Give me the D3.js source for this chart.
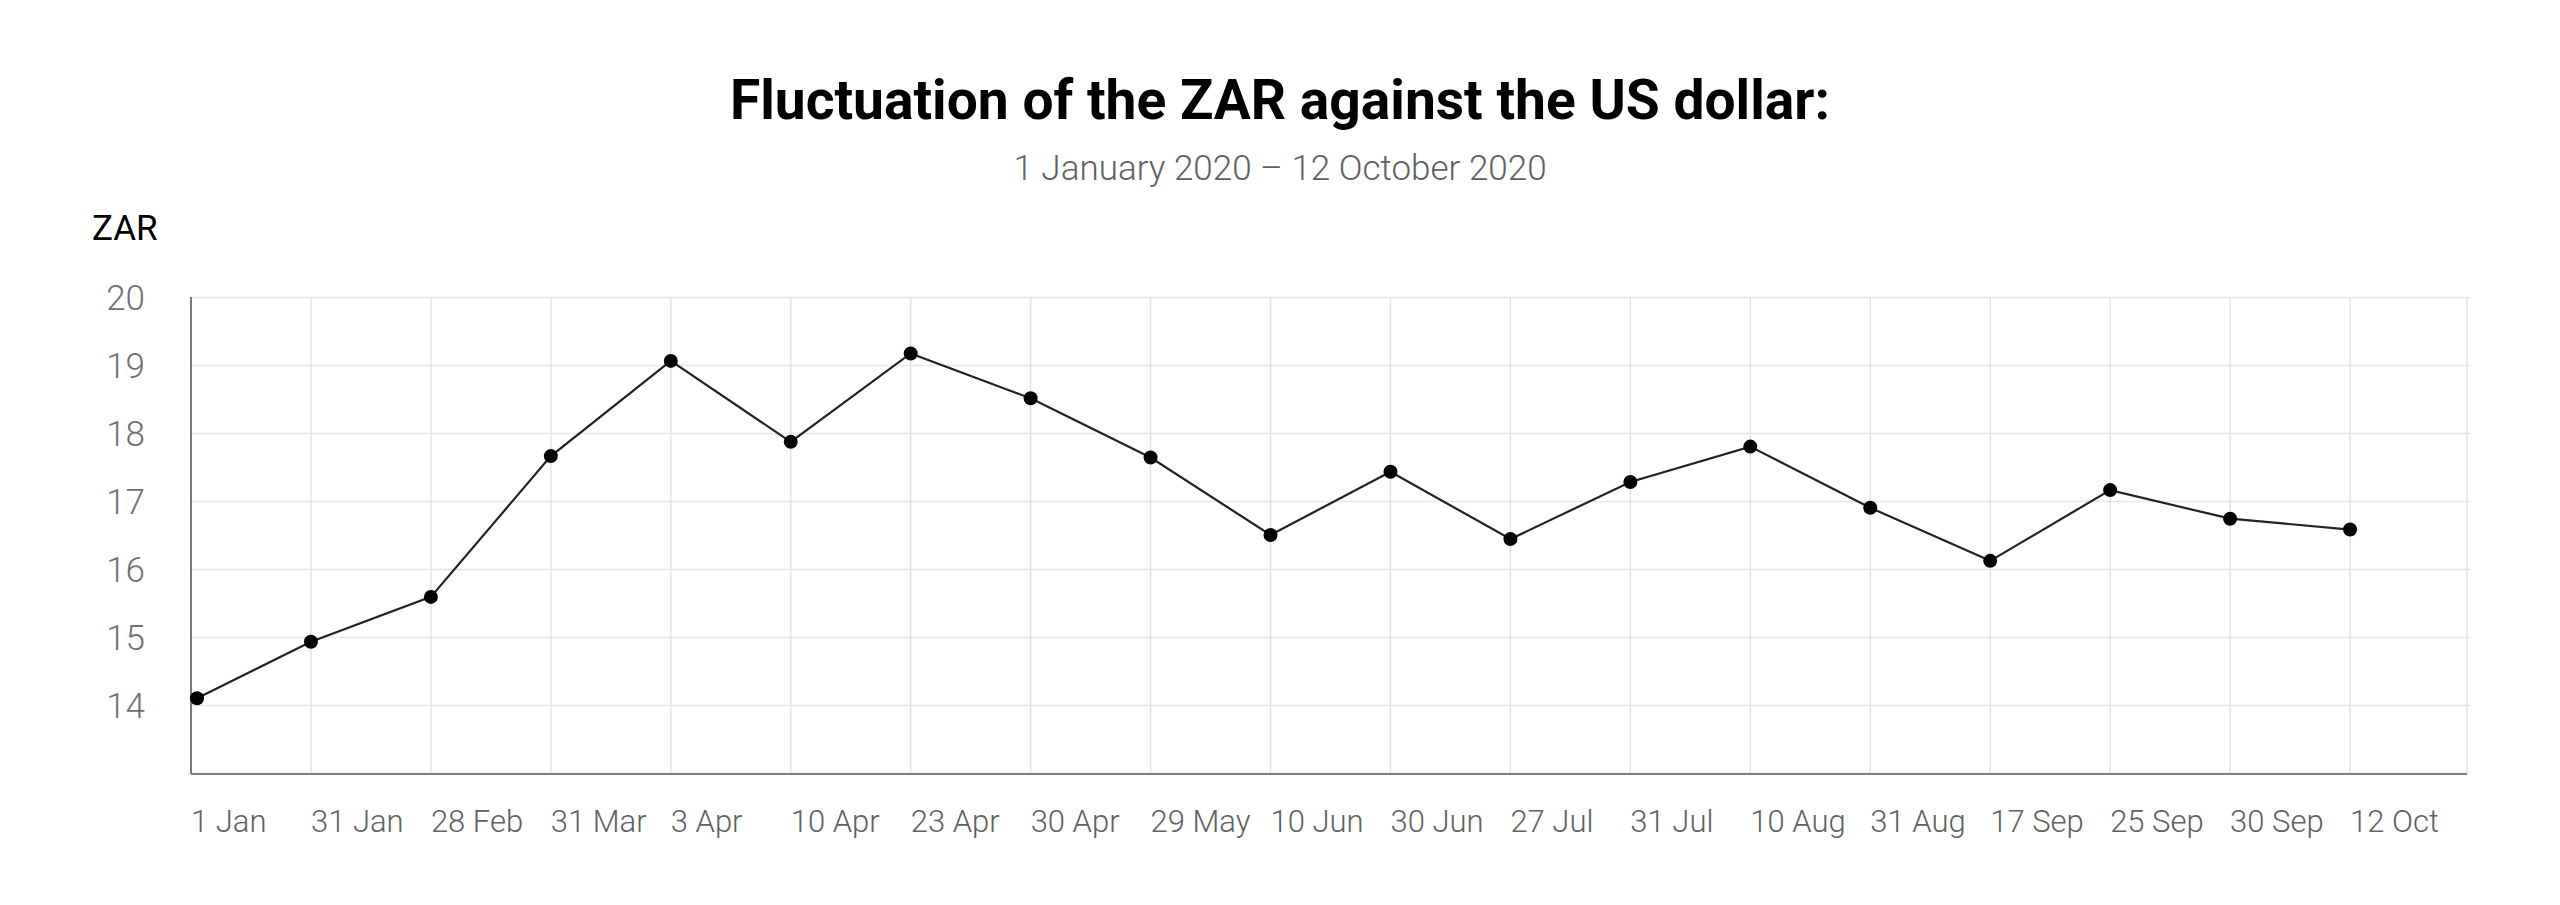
<!DOCTYPE html>
<html>
<head>
<meta charset="utf-8">
<script src="https://cdn.jsdelivr.net/npm/d3@7"></script>
<style>
  html, body { margin: 0; padding: 0; background: #ffffff; }
  svg { display: block; }
  text { font-family: Roboto, "Noto Sans", sans-serif; }
</style>
</head>
<body>
<svg id="chart" width="2560" height="905"></svg>
<script>
const titleText = "Fluctuation of the ZAR against the US dollar:";
const subtitleText = "1 January 2020 \u2013 12 October 2020";
const yAxisLabel = "ZAR";

const dates = ["1 Jan", "31 Jan", "28 Feb", "31 Mar", "3 Apr", "10 Apr", "23 Apr", "30 Apr",
  "29 May", "10 Jun", "30 Jun", "27 Jul", "31 Jul", "10 Aug", "31 Aug", "17 Sep",
  "25 Sep", "30 Sep", "12 Oct"];
const zarValues = [14.10, 14.93, 15.59, 17.66, 19.06, 17.87, 19.17, 18.51,
  17.64, 16.50, 17.43, 16.44, 17.28, 17.80, 16.90, 16.12,
  17.16, 16.74, 16.58];
const yTicks = [14, 15, 16, 17, 18, 19, 20];
const yDomain = [13, 20];

(function () {
const svg = d3.select("#chart");
const mLeft = 191, mRight = 2470, mTop = 297, mBottom = 773;

const x = d3.scaleBand().domain(dates).range([mLeft, mRight]).paddingInner(0).paddingOuter(0);
const y = d3.scaleLinear().domain(yDomain).range([mBottom, mTop]);

// Title and subtitle
svg.append("text")
  .attr("x", 1280).attr("y", 119)
  .attr("text-anchor", "middle")
  .attr("font-size", 56).attr("font-weight", 700)
  .attr("fill", "#000")
  .attr("textLength", 1100).attr("lengthAdjust", "spacingAndGlyphs")
  .text(titleText);

svg.append("text")
  .attr("x", 1280).attr("y", 180)
  .attr("text-anchor", "middle")
  .attr("font-size", 35).attr("font-weight", 300)
  .attr("fill", "#606060")
  .text(subtitleText);

svg.append("text")
  .attr("x", 92).attr("y", 240)
  .attr("font-size", 35).attr("font-weight", 400)
  .attr("fill", "#000")
  .text(yAxisLabel);

// Horizontal gridlines
svg.append("g").attr("class", "ygrid")
  .attr("transform", `translate(${mLeft},0)`)
  .call(d3.axisLeft(y).tickValues(yTicks.concat([13])).tickSize(-(mRight - mLeft)).tickFormat(""))
  .call(g => g.select(".domain").remove())
  .call(g => g.selectAll(".tick line").attr("stroke", "#e6e6e6").attr("stroke-width", 1.5));

// Vertical gridlines
svg.append("g").attr("class", "xgrid")
  .attr("transform", `translate(0,${mBottom})`)
  .call(d3.axisBottom(x).tickSize(-(mBottom - mTop)).tickFormat(""))
  .call(g => g.select(".domain").remove())
  .call(g => g.selectAll(".tick").attr("transform", d => `translate(${x(d)},0)`))
  .call(g => g.selectAll(".tick line").attr("stroke", "#e3e3e3").attr("stroke-width", 1.5));

// Right border gridline
svg.append("line")
  .attr("x1", x.range()[1] - 3).attr("x2", x.range()[1] - 3)
  .attr("y1", mTop).attr("y2", mBottom)
  .attr("stroke", "#e3e3e3").attr("stroke-width", 1.5);

// Y tick labels
svg.append("g").attr("class", "yaxis")
  .attr("transform", `translate(${mLeft},0)`)
  .call(d3.axisLeft(y).tickValues(yTicks).tickSize(0).tickPadding(46).tickFormat(d3.format("d")))
  .call(g => g.select(".domain").remove())
  .call(g => g.selectAll(".tick text")
    .attr("font-size", 35).attr("font-weight", 300).attr("fill", "#707070")
    .attr("font-family", "Roboto, sans-serif").attr("dy", "0.36em"));

// X tick labels (left-aligned at band start)
svg.append("g").attr("class", "xaxis")
  .attr("transform", `translate(0,${mBottom})`)
  .call(d3.axisBottom(x).tickSize(0).tickPadding(0))
  .call(g => g.select(".domain").remove())
  .call(g => g.selectAll(".tick").attr("transform", d => `translate(${x(d)},0)`))
  .call(g => g.selectAll(".tick text")
    .attr("text-anchor", "start").attr("x", 0).attr("y", 59).attr("dy", 0)
    .attr("font-size", 31).attr("font-weight", 300).attr("fill", "#606060")
    .attr("font-family", "Roboto, sans-serif"));

// Axis lines
svg.append("line")
  .attr("x1", mLeft).attr("x2", mLeft).attr("y1", mTop).attr("y2", mBottom + 1)
  .attr("stroke", "#555").attr("stroke-width", 1.5);
svg.append("line")
  .attr("x1", mLeft).attr("x2", x.range()[1] - 3).attr("y1", mBottom + 1).attr("y2", mBottom + 1)
  .attr("stroke", "#808080").attr("stroke-width", 2.2);

// Data
const pts = dates.map((d, i) => ({ d, v: zarValues[i], i }));
const px = p => x(p.d) + (p.i === 0 ? 6 : 0);

svg.append("path")
  .datum(pts)
  .attr("fill", "none")
  .attr("stroke", "#222")
  .attr("stroke-width", 2.2)
  .attr("d", d3.line().x(px).y(p => y(p.v)));

svg.append("g").selectAll("circle")
  .data(pts)
  .join("circle")
  .attr("cx", px)
  .attr("cy", p => y(p.v))
  .attr("r", 7)
  .attr("fill", "#000");
})();
</script>
</body>
</html>
